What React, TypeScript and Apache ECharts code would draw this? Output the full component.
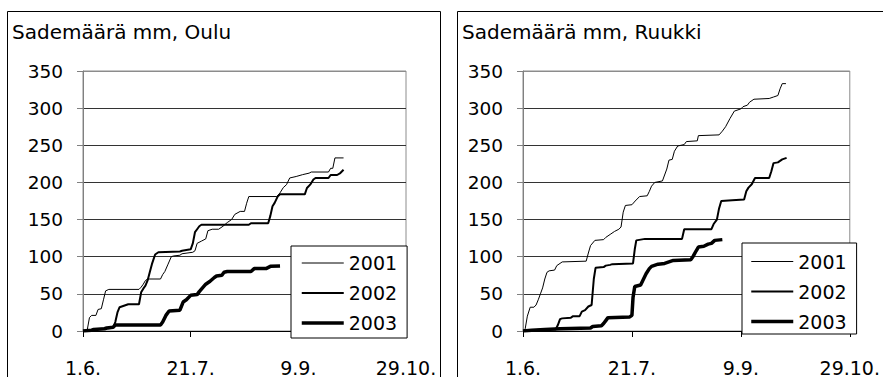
import React, { useEffect, useRef } from 'react';
import * as echarts from 'echarts';

// Titles, legend names and x tick labels
const panelTitles = ['Sademäärä mm, Oulu', 'Sademäärä mm, Ruukki'];
const seriesNames = ['2001', '2002', '2003'];
const xTickLabels = ['1.6.', '21.7.', '9.9.', '29.10.'];

// [days since 1.6., cumulative rainfall mm] — Oulu
const oulu2001 = [
  [0, 0], [2, 2], [3, 18], [4, 21], [6, 21], [7, 29], [8.5, 30], [9.5, 42], [10.5, 54], [12, 56], [26, 56],
  [27, 59], [28, 63], [29, 68], [30, 70], [36, 70], [37, 76], [38, 80], [39.5, 90], [41, 100], [42, 101],
  [45, 102], [46, 104], [51, 106], [52, 108], [53, 118], [55, 121], [57, 124], [58, 135], [60, 137], [63, 137],
  [65, 141], [67, 146], [69, 150], [70.5, 157], [73, 161], [75, 161], [76, 172], [77, 181], [90, 181],
  [91.5, 186], [93, 193], [94.5, 197], [96, 206], [99, 208], [102, 210.5], [105, 212.5], [106, 214], [114, 214],
  [115, 219], [116, 219], [117, 233], [121, 233],
];
const oulu2002 = [
  [0, 0], [3, 1], [6, 2], [9, 3], [13, 4], [14, 5], [15, 12], [16, 25], [17, 32], [19, 34], [21, 36], [26, 36],
  [27, 52], [28, 57], [29, 61], [30, 68], [31, 79], [32, 90], [33.5, 103], [35, 106], [45, 107], [46, 108],
  [50, 110], [51, 118], [52, 133], [53, 137], [54, 141], [55, 143], [77, 143], [78, 145], [86, 145], [87, 155],
  [88, 168], [89, 172.5], [90.5, 181.5], [91.5, 184], [103, 184], [104, 192.5], [105.5, 197], [107, 204],
  [108, 206], [114, 206], [115, 210], [118, 210], [119.5, 212.6], [121, 217],
];
const oulu2003 = [
  [0, 0], [4, 1], [5, 2], [10, 3], [11, 4], [14, 5], [15, 8], [36, 8], [37, 12], [38.5, 21], [40, 27], [45, 28],
  [46.5, 39], [48, 42], [50, 48], [53, 49], [54, 53], [55.5, 58], [57, 63], [59, 67], [61, 72], [62, 74],
  [64.5, 75], [65.5, 79], [67, 80], [78, 80], [79.5, 84], [85, 84], [87, 87], [91.5, 87.5],
];

// Ruukki
const ruukki2001 = [
  [0, 0], [1, 3], [2, 20], [3.3, 32], [5, 32], [6, 35], [7, 42], [8, 50], [9, 58], [10, 70], [11, 79], [12, 81],
  [14.5, 82], [15.5, 88], [17, 91], [18, 93], [29, 94], [30, 105], [31, 115], [33, 122], [37, 123], [38, 126],
  [40, 130], [42, 134], [44, 137], [45, 140], [46, 160], [47, 169], [50, 170], [51.5, 175], [53.5, 181],
  [57, 182], [58, 188], [59, 195], [60.5, 200], [64, 202], [65, 210], [66, 218], [67, 230], [68.5, 231],
  [69.5, 242], [71, 249], [74, 251], [75, 255], [80, 256], [80.5, 263], [90, 264], [91.5, 269], [93, 275],
  [95, 286], [97, 296], [100, 299], [101, 302], [103, 304], [104, 308], [106, 312], [113, 313], [115, 315],
  [117, 317], [118, 326], [119, 333], [120.7, 333],
];
const ruukki2002 = [
  [0, 0], [4, 1], [10, 2], [15, 2], [16, 8], [17, 16], [18, 17], [22, 18], [23, 20], [26, 20], [27, 26],
  [28.5, 28], [30, 33], [31.5, 35], [32.5, 70], [33.3, 85], [37, 86], [38, 88], [40, 89], [41, 90], [50.5, 91],
  [51.3, 110], [52, 122], [54, 123], [56, 124], [73, 124], [74, 137], [86.5, 137], [87.5, 144], [89, 150],
  [90, 165], [91, 175], [96, 176], [101.5, 177], [102.5, 188], [103.5, 193], [105, 197.5], [106.5, 206],
  [113, 206], [114, 215], [115, 226], [117, 227], [119, 231], [121, 233],
];
const ruukki2003 = [
  [0, 0], [4, 1], [10, 2], [17, 3], [31, 4], [32, 6], [36, 7], [37, 10], [38, 14], [39, 18], [49, 19], [50, 21],
  [50.5, 45], [51.3, 60], [54, 62], [55.5, 71], [56.5, 77], [58, 84], [59, 87], [62, 90], [65, 91], [67, 93],
  [69, 95], [77, 96], [78, 100], [79.5, 108], [80.5, 113], [83, 114], [85, 117], [86.5, 118], [88, 122],
  [91.5, 123],
];

const panelData = [
  [oulu2001, oulu2002, oulu2003],
  [ruukki2001, ruukki2002, ruukki2003],
];

const FONT = "'DejaVu Sans', 'Liberation Sans', sans-serif";
const lineWidths = [1, 2, 3.5];

export default function App() {
  const ref = useRef<HTMLDivElement>(null);

  useEffect(() => {
    if (!ref.current) return;
    const chart = echarts.init(ref.current, undefined, { renderer: 'svg' });

    const grids = [
      { left: 83, top: 71, width: 323, height: 261 },
      { left: 523, top: 71, width: 333, height: 262 },
    ];

    const xAxes = grids.map((_, i) => ({
      type: 'value',
      gridIndex: i,
      min: 0,
      max: 150,
      interval: 50,
      axisLine: { show: true, onZero: false, lineStyle: { color: '#000', width: 1 } },
      axisTick: { show: true, length: 6, lineStyle: { color: '#000' } },
      axisLabel: {
        margin: 27,
        fontSize: 19,
        fontFamily: FONT,
        color: '#000',
        formatter: (v: number) => xTickLabels[Math.round(v / 50)] ?? '',
      },
      splitLine: { show: false },
    }));

    const yAxes = grids.map((_, i) => ({
      type: 'value',
      gridIndex: i,
      min: 0,
      max: 350,
      interval: 50,
      axisLine: { show: true, lineStyle: { color: '#808080', width: 1 } },
      axisTick: { show: true, length: 6, lineStyle: { color: '#808080' } },
      axisLabel: { margin: 20, fontSize: 18.5, fontFamily: FONT, color: '#000' },
      splitLine: {
        show: true,
        lineStyle: {
          color: ['#333', '#333', '#333', '#333', '#333', '#333', '#333', '#8c8c8c'],
          width: 1,
        },
      },
    }));

    const series: any[] = [];
    panelData.forEach((group, gi) => {
      group.forEach((data, si) => {
        series.push({
          type: 'line',
          name: seriesNames[si],
          xAxisIndex: gi,
          yAxisIndex: gi,
          data,
          showSymbol: false,
          symbol: 'none',
          color: '#000',
          lineStyle: { color: '#000', width: lineWidths[si] },
          z: 2 + si,
        });
      });
    });

    const legendData = seriesNames.map((name, i) => ({
      name,
      itemStyle: { opacity: 0 },
      lineStyle: { width: lineWidths[i], color: '#000' },
    }));

    const legendBase = {
      orient: 'vertical',
      itemGap: 11,
      itemWidth: 42,
      itemHeight: 14,
      borderColor: '#000',
      borderWidth: 1,
      borderRadius: 0,
      backgroundColor: '#fff',
      textStyle: { fontSize: 19, fontFamily: FONT, color: '#000' },
      data: legendData,
      selectedMode: false,
      z: 10,
    };

    chart.setOption({
      animation: false,
      backgroundColor: '#fff',
      title: panelTitles.map((t, i) => ({
        text: t,
        left: i === 0 ? 12 : 462,
        top: 22,
        padding: 0,
        textStyle: { fontSize: 20, fontWeight: 'normal', fontFamily: FONT, color: '#000' },
      })),
      grid: grids.map((g) => ({ ...g, show: true, borderColor: '#8c8c8c', borderWidth: 1, backgroundColor: 'transparent' })),
      xAxis: xAxes,
      yAxis: yAxes,
      legend: [
        { ...legendBase, left: 291, top: 246, padding: [7.5, 10, 5.5, 9] },
        { ...legendBase, left: 742, top: 243, padding: [9, 10, 3, 7.5] },
      ],
      graphic: [
        { type: 'rect', shape: { x: 7.5, y: 11.5, width: 433, height: 450 }, style: { fill: 'none', stroke: '#000', lineWidth: 1 }, z: 0, silent: true },
        { type: 'rect', shape: { x: 457.5, y: 11.5, width: 450, height: 450 }, style: { fill: 'none', stroke: '#000', lineWidth: 1 }, z: 0, silent: true },
      ],
      series,
    });

    return () => chart.dispose();
  }, []);

  return <div ref={ref} style={{ position: 'fixed', left: 0, top: 0, width: 883, height: 377 }} />;
}
